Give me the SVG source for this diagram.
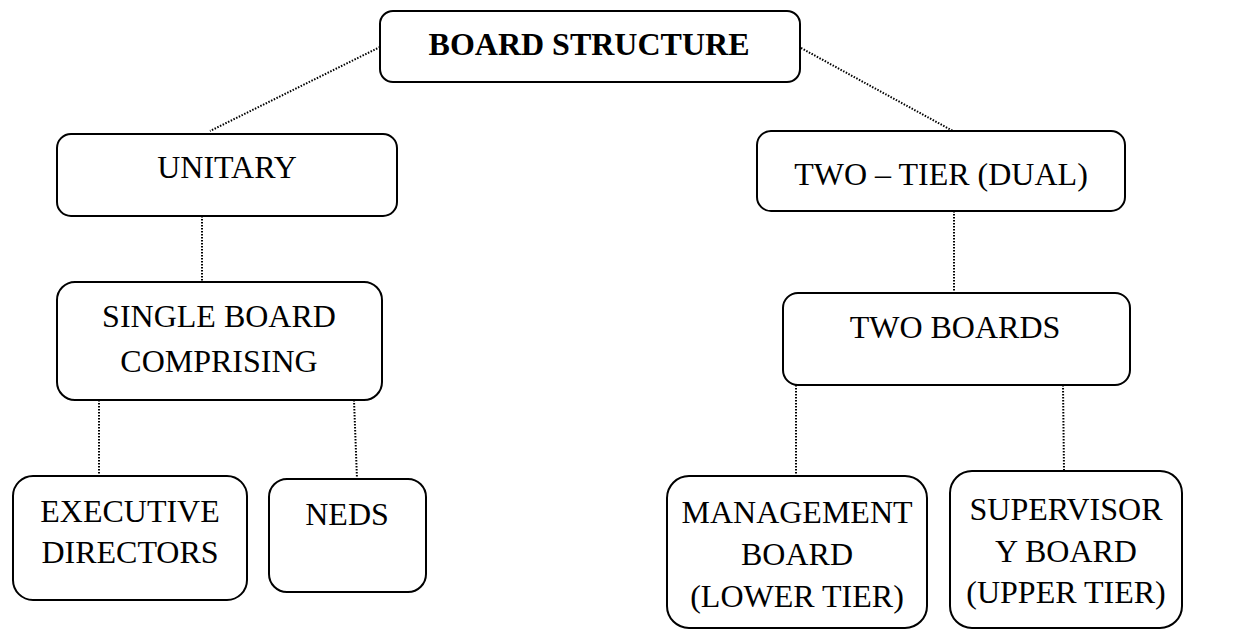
<svg xmlns="http://www.w3.org/2000/svg" width="1243" height="630" viewBox="0 0 1243 630">
  <style>
    .box { fill: #ffffff; stroke: #000000; stroke-width: 2; }
    .lbl { font-family: "Liberation Serif", "Times New Roman", serif; font-size: 32px; fill: #000000; text-anchor: middle; }
    .bold { font-weight: bold; }
    .link { fill: none; stroke: #000000; stroke-width: 2; stroke-dasharray: 1.5 1.5; }
  </style>
  <rect width="1243" height="630" fill="#ffffff"/>

  <!-- dotted connectors -->
  <g id="connectors">
    <line class="link" x1="380" y1="47" x2="210" y2="131"/>
    <line class="link" x1="801" y1="48" x2="953" y2="131"/>
    <line class="link" x1="202" y1="216" x2="202" y2="282"/>
    <line class="link" x1="954" y1="211" x2="954" y2="293"/>
    <line class="link" x1="99" y1="400" x2="99" y2="476"/>
    <line class="link" x1="354" y1="400" x2="357" y2="479"/>
    <line class="link" x1="796" y1="385" x2="796" y2="476"/>
    <line class="link" x1="1063" y1="385" x2="1064" y2="471"/>
  </g>

  <g id="board-structure">
    <rect class="box" x="380" y="11" width="420" height="71" rx="13"/>
    <text class="lbl bold" x="589" y="55">BOARD STRUCTURE</text>
  </g>

  <g id="unitary">
    <rect class="box" x="57" y="134" width="340" height="82" rx="14"/>
    <text class="lbl" x="227" y="178">UNITARY</text>
  </g>

  <g id="two-tier">
    <rect class="box" x="757" y="131" width="368" height="80" rx="14"/>
    <text class="lbl" x="941" y="185">TWO – TIER (DUAL)</text>
  </g>

  <g id="single-board">
    <rect class="box" x="57" y="282" width="325" height="118" rx="18"/>
    <text class="lbl" x="219" y="327">SINGLE BOARD</text>
    <text class="lbl" x="219" y="372">COMPRISING</text>
  </g>

  <g id="two-boards">
    <rect class="box" x="783" y="293" width="347" height="92" rx="15"/>
    <text class="lbl" x="955" y="338">TWO BOARDS</text>
  </g>

  <g id="executive-directors">
    <rect class="box" x="13" y="476" width="234" height="124" rx="20"/>
    <text class="lbl" x="130" y="522">EXECUTIVE</text>
    <text class="lbl" x="130" y="563">DIRECTORS</text>
  </g>

  <g id="neds">
    <rect class="box" x="269" y="479" width="157" height="113" rx="18"/>
    <text class="lbl" x="347" y="525">NEDS</text>
  </g>

  <g id="management-board">
    <rect class="box" x="667" y="476" width="260" height="152" rx="22"/>
    <text class="lbl" x="797" y="523">MANAGEMENT</text>
    <text class="lbl" x="797" y="565">BOARD</text>
    <text class="lbl" x="797" y="607">(LOWER TIER)</text>
  </g>

  <g id="supervisory-board">
    <rect class="box" x="950" y="471" width="232" height="157" rx="22"/>
    <text class="lbl" x="1066" y="520">SUPERVISOR</text>
    <text class="lbl" x="1066" y="562">Y BOARD</text>
    <text class="lbl" x="1066" y="603">(UPPER TIER)</text>
  </g>
</svg>
